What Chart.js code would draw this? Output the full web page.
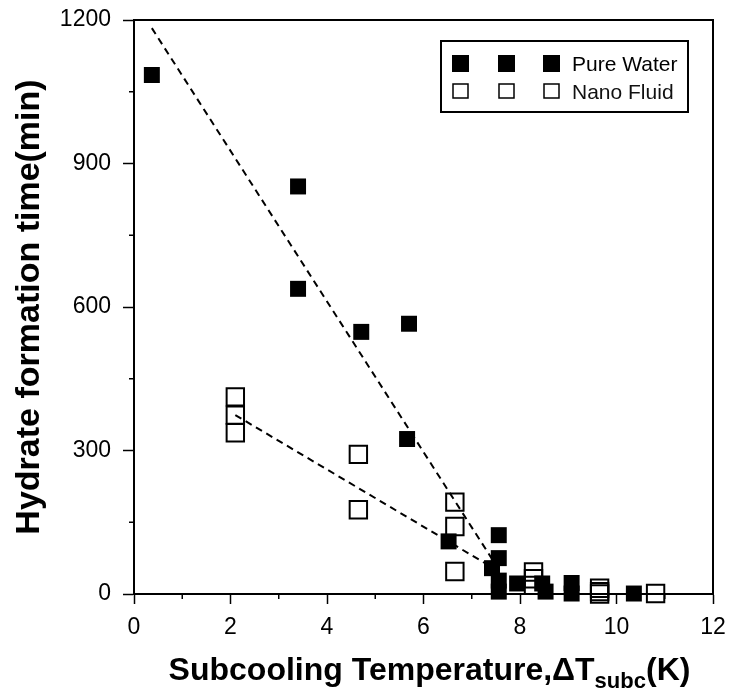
<!DOCTYPE html>
<html>
<head>
<meta charset="utf-8">
<script src="https://cdn.jsdelivr.net/npm/chart.js@4.4.0/dist/chart.umd.min.js"></script>
<style>
  html, body { margin: 0; padding: 0; background: #fff; }
  #wrap { position: relative; width: 729px; height: 693px; overflow: hidden; }
  #c { position: absolute; left: 0; top: 0; }
  #xtitle {
    position: absolute; left: 140px; width: 579px; top: 653px;
    text-align: center; white-space: nowrap;
    font-family: "Liberation Sans", Arial, sans-serif; font-weight: bold;
    font-size: 32px; line-height: 32px; color: #000;
  }
  #xtitle .sub { font-size: 22px; position: relative; top: 8px; }
</style>
</head>
<body>
<div id="wrap">
  <canvas id="c" width="729" height="693"></canvas>
  <div id="xtitle">Subcooling Temperature,ΔT<span class="sub">subc</span>(K)</div>
</div>
<script>
// ---- data ----
const xTicks = [0, 2, 4, 6, 8, 10, 12];
const yTicks = [0, 300, 600, 900, 1200];
const xMinorTicks = [1, 3, 5, 7, 9, 11];
const yMinorTicks = [150, 450, 750, 1050];

const pureLabel = 'Pure Water';
const pureX = [0.37, 3.40, 3.40, 4.71, 5.70, 5.66, 6.52, 7.56, 7.56, 7.42, 7.56, 7.56, 7.94, 8.46, 8.53, 9.07, 9.07, 10.36];
const pureY = [1085, 852, 638, 548, 565, 324, 110, 123, 75, 54, 28, 5, 22, 22, 5, 23, 1, 1];

const nanoLabel = 'Nano Fluid';
const nanoX = [2.10, 2.10, 2.10, 4.65, 4.65, 6.65, 6.65, 6.65, 8.28, 8.28, 8.28, 9.65, 9.65, 9.65, 10.81];
const nanoY = [412, 374, 337, 292, 176, 192, 141, 47, 46, 32, 18, 12, 5, 0, 1];

const pureTrendX = [0.37, 7.6];
const pureTrendY = [1183, 45];
const nanoTrendX = [2.1, 7.6];
const nanoTrendY = [374, 45];

const xTitle = 'Subcooling Temperature,ΔTsubc(K)';
const yTitle = 'Hydrate formation time(min)';

// ---- helpers ----
const zip = (xs, ys) => xs.map((x, i) => ({ x: x, y: ys[i] }));
const FONT = '"Liberation Sans", Arial, sans-serif';

const framePlugin = {
  id: 'frameAndMinor',
  beforeDatasetsDraw(chart) {
    const { ctx, chartArea: a, scales } = chart;
    ctx.save();
    ctx.strokeStyle = '#000';
    ctx.lineWidth = 2;
    ctx.strokeRect(a.left, a.top, a.right - a.left, a.bottom - a.top);
    ctx.lineWidth = 1.5;
    ctx.beginPath();
    xMinorTicks.forEach(v => {
      const px = scales.x.getPixelForValue(v);
      ctx.moveTo(px, a.bottom); ctx.lineTo(px, a.bottom + 5);
    });
    yMinorTicks.forEach(v => {
      const py = scales.y.getPixelForValue(v);
      ctx.moveTo(a.left, py); ctx.lineTo(a.left - 5, py);
    });
    ctx.stroke();
    ctx.restore();
  }
};

const legendPlugin = {
  id: 'boxLegend',
  afterDraw(chart) {
    const { ctx, chartArea: a } = chart;
    const bx = a.right - 272, by = a.top + 21, bw = 247, bh = 71;
    ctx.save();
    ctx.fillStyle = '#fff';
    ctx.fillRect(bx, by, bw, bh);
    ctx.strokeStyle = '#000';
    ctx.lineWidth = 2;
    ctx.strokeRect(bx, by, bw, bh);
    const cols = [bx + 19.5, bx + 65.5, bx + 110.5];
    const r1 = by + 22.5, r2 = by + 50;
    ctx.fillStyle = '#000';
    cols.forEach(cx => ctx.fillRect(cx - 8.5, r1 - 8.5, 17, 17));
    ctx.lineWidth = 1.5;
    cols.forEach(cx => ctx.strokeRect(cx - 7.5, r2 - 7, 15, 14));
    ctx.font = '21px ' + FONT;
    ctx.textBaseline = 'alphabetic';
    ctx.textAlign = 'left';
    ctx.fillStyle = '#000';
    ctx.fillText(pureLabel, bx + 131, by + 29.5);
    ctx.fillStyle = '#111';
    ctx.fillText(nanoLabel, bx + 131, by + 57.5);
    ctx.restore();
  }
};

new Chart(document.getElementById('c'), {
  type: 'scatter',
  data: {
    datasets: [
      {
        label: 'Pure Water trend', type: 'line', data: zip(pureTrendX, pureTrendY),
        borderColor: '#000', borderWidth: 2, borderDash: [7, 5],
        pointRadius: 0, fill: false, showLine: true, order: 3
      },
      {
        label: 'Nano Fluid trend', type: 'line', data: zip(nanoTrendX, nanoTrendY),
        borderColor: '#000', borderWidth: 2, borderDash: [7, 5],
        pointRadius: 0, fill: false, showLine: true, order: 3
      },
      {
        label: nanoLabel, data: zip(nanoX, nanoY),
        pointStyle: 'rect', pointRadius: 12.3, pointHoverRadius: 12.3,
        backgroundColor: 'rgba(0,0,0,0)', borderColor: '#000', borderWidth: 2,
        clip: false, order: 2
      },
      {
        label: pureLabel, data: zip(pureX, pureY),
        pointStyle: 'rect', pointRadius: 11.3, pointHoverRadius: 11.3,
        backgroundColor: '#000', borderColor: '#000', borderWidth: 0,
        clip: false, order: 1
      }
    ]
  },
  options: {
    responsive: false,
    animation: false,
    devicePixelRatio: 1,
    layout: { padding: { top: 20, right: 16, left: 0, bottom: 0 } },
    plugins: { legend: { display: false }, tooltip: { enabled: false } },
    scales: {
      x: {
        type: 'linear', min: 0, max: 12,
        afterBuildTicks: s => { s.ticks = xTicks.map(v => ({ value: v })); },
        afterFit: s => { s.height = 99; s.paddingLeft = 0; s.paddingRight = 0; },
        grid: { drawOnChartArea: false, drawTicks: true, tickLength: 10, color: '#000', tickWidth: 1.5 },
        border: { display: true, color: '#000', width: 2 },
        ticks: { color: '#000', padding: 10, font: { family: FONT, size: 23 }, maxRotation: 0,
                 callback: v => String(v) },
        title: { display: false, text: xTitle }
      },
      y: {
        type: 'linear', min: 0, max: 1200,
        afterBuildTicks: s => { s.ticks = yTicks.map(v => ({ value: v })); },
        afterFit: s => { s.width = 134; s.paddingTop = 0; s.paddingBottom = 0; },
        grid: { drawOnChartArea: false, drawTicks: true, tickLength: 11, color: '#000', tickWidth: 1.5 },
        border: { display: true, color: '#000', width: 2 },
        ticks: { color: '#000', padding: 12, font: { family: FONT, size: 23 },
                 callback: v => String(v) },
        title: {
          display: true, text: yTitle, color: '#000',
          font: { family: FONT, size: 34, weight: 'bold', lineHeight: 1.2 },
          padding: { top: 9, bottom: 0 }
        }
      }
    }
  },
  plugins: [framePlugin, legendPlugin]
});
</script>
</body>
</html>
